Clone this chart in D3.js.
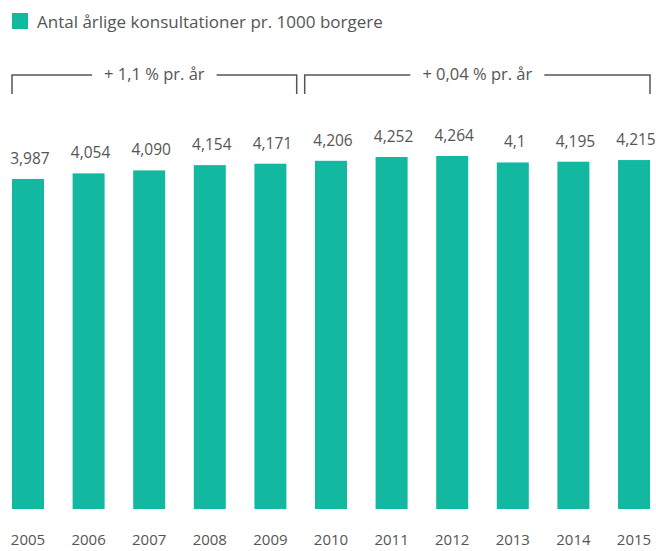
<!DOCTYPE html>
<html>
<head>
<meta charset="utf-8">
<script src="https://cdn.jsdelivr.net/npm/d3@7"></script>
<style>
  body { margin: 0; background: #fff; }
  text { font-family: "Open Sans", "Noto Sans", sans-serif; fill: #555; }
</style>
</head>
<body>
<div id="chart"></div>
<script>
// data
const years = ["2005", "2006", "2007", "2008", "2009", "2010", "2011", "2012", "2013", "2014", "2015"];
const values = [3.987, 4.054, 4.090, 4.154, 4.171, 4.206, 4.252, 4.264, 4.186, 4.195, 4.215];
const valueLabels = ["3,987", "4,054", "4,090", "4,154", "4,171", "4,206", "4,252", "4,264", "4,1", "4,195", "4,215"];
const periods = [
    { from: "2005", to: "2009", label: "+ 1,1 % pr. år" },
    { from: "2010", to: "2015", label: "+ 0,04 % pr. år" }
];
const legendLabel = "Antal årlige konsultationer pr. 1000 borgere";

const width = 656, height = 551;
const color = "#12b9a0";
const baseY = 509;

const svg = d3.select("#chart").append("svg")
    .attr("width", width)
    .attr("height", height);

// scales
const x = d3.scaleBand()
    .domain(years)
    .range([12, 650])
    .paddingInner(0.472)
    .paddingOuter(0);

const y = d3.scaleLinear()
    .domain([0, 4.264])
    .range([baseY, 156]);

// legend
svg.append("rect")
    .attr("x", 12).attr("y", 13)
    .attr("width", 16).attr("height", 16)
    .style("fill", color);
svg.append("text")
    .attr("x", 37).attr("y", 28)
    .style("font-size", "17px")
    .text(legendLabel);

// bars
svg.selectAll(".bar")
    .data(years)
    .enter()
    .append("rect")
    .attr("class", "bar")
    .attr("x", d => x(d))
    .attr("width", x.bandwidth())
    .attr("y", (d, i) => y(values[i]))
    .attr("height", (d, i) => baseY - y(values[i]))
    .style("fill", color);

// value labels
svg.selectAll(".val")
    .data(years)
    .enter()
    .append("text")
    .attr("class", "val")
    .attr("text-anchor", "middle")
    .attr("x", d => x(d) + x.bandwidth() / 2 + 2)
    .attr("y", (d, i) => y(values[i]) - 15)
    .style("font-size", "15.5px")
    .text((d, i) => valueLabels[i]);

// year axis labels
const xAxis = svg.append("g")
    .attr("transform", "translate(0," + baseY + ")")
    .call(d3.axisBottom(x).tickSize(0).tickPadding(25));
xAxis.select(".domain").remove();
xAxis.selectAll("text")
    .style("font-size", "15px")
    .style("font-family", "\"Open Sans\", sans-serif")
    .attr("fill", "#555");

// period brackets
const step = x.step();
const gap = (step - x.bandwidth()) / 2;
const bracketTop = 75, bracketBottom = 94;

periods.forEach((p, i) => {
    let x0 = x(p.from), x1 = x(p.to) + x.bandwidth();
    if (i > 0) x0 = x(p.from) - gap + 4;
    if (i < periods.length - 1) x1 = x(p.to) + x.bandwidth() + gap - 4;
    const g = svg.append("g");
    const label = g.append("text")
        .attr("x", (x0 + x1) / 2)
        .attr("y", 80)
        .attr("text-anchor", "middle")
        .style("font-size", "16.5px")
        .text(p.label);
    const tw = label.node().getComputedTextLength();
    const cx = (x0 + x1) / 2;
    g.append("path")
        .attr("d", "M" + x0 + "," + bracketBottom + "V" + bracketTop + "H" + (cx - tw / 2 - 12))
        .style("fill", "none").style("stroke", "#555").style("stroke-width", 1.5);
    g.append("path")
        .attr("d", "M" + (cx + tw / 2 + 12) + "," + bracketTop + "H" + x1 + "V" + bracketBottom)
        .style("fill", "none").style("stroke", "#555").style("stroke-width", 1.5);
});
</script>
</body>
</html>
